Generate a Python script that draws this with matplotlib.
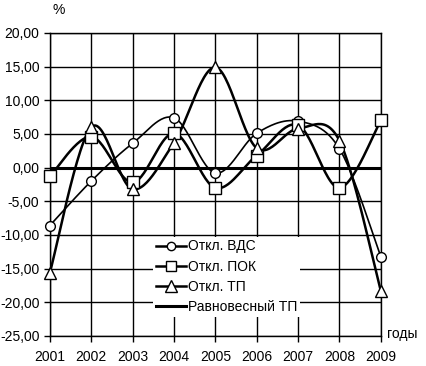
import numpy as np
import matplotlib
matplotlib.use('Agg')
import matplotlib.pyplot as plt
from matplotlib.ticker import FuncFormatter

plt.rcParams['font.family'] = ['Liberation Sans', 'DejaVu Sans']

years = [2001, 2002, 2003, 2004, 2005, 2006, 2007, 2008, 2009]
vds = [-8.6, -2.0, 3.6, 7.4, -0.8, 5.1, 6.9, 2.8, -13.2]
pok = [-1.3, 4.6, -2.2, 5.1, -3.0, 1.8, 6.3, -3.0, 7.0]
tp = [-15.6, 6.0, -3.2, 3.7, 14.9, 2.9, 5.8, 4.0, -18.3]
eq_tp = [0, 0, 0, 0, 0, 0, 0, 0, 0]


def smooth(x, y, n=30):
    # Excel-style smoothed line (Catmull-Rom through points)
    x = np.asarray(x, float); y = np.asarray(y, float)
    px = np.concatenate([[x[0]], x, [x[-1]]])
    py = np.concatenate([[y[0]], y, [y[-1]]])
    xs, ys = [], []
    t = np.linspace(0, 1, n)
    for i in range(1, len(px) - 2):
        p0, p1, p2, p3 = [np.array([px[j], py[j]]) for j in range(i - 1, i + 3)]
        c1 = p1 + (p2 - p0) / 6
        c2 = p2 - (p3 - p1) / 6
        b = ((1 - t) ** 3)[:, None] * p1 + (3 * (1 - t) ** 2 * t)[:, None] * c1 \
            + (3 * (1 - t) * t ** 2)[:, None] * c2 + (t ** 3)[:, None] * p2
        xs.append(b[:, 0]); ys.append(b[:, 1])
    return np.concatenate(xs), np.concatenate(ys)


fig = plt.figure(figsize=(4.26, 3.66), dpi=100)
ax = fig.add_axes([0.117, 0.082, 0.777, 0.828])

ax.grid(True, color='black', lw=1)
ax.set_axisbelow(True)

series = [(vds, 'o', 7, 1.2, 'Откл. ВДС'),
          (pok, 's', 8, 1.8, 'Откл. ПОК'),
          (tp, '^', 9, 1.8, 'Откл. ТП')]
handles = []
for vals, m, ms, lw, lab in series:
    sx, sy = smooth(years, vals)
    ax.plot(sx, sy, color='black', lw=lw, zorder=3, clip_on=False)
    ax.plot(years, vals, ls='none', marker=m, ms=ms, mfc='white',
            mec='black', mew=1, zorder=4, clip_on=False)
    h, = ax.plot([], [], color='black', lw=1.8, marker=m, ms=ms - 1,
                 mfc='white', mec='black', mew=1, label=lab)
    handles.append(h)
h, = ax.plot(years, eq_tp, color='black', lw=2.2, zorder=3, label='Равновесный ТП')
handles.append(h)

ax.set_xlim(2001, 2009)
ax.set_ylim(-25, 20)
ax.set_xticks(years)
ax.set_yticks(np.arange(-25, 21, 5))
ax.yaxis.set_major_formatter(FuncFormatter(lambda v, p: f'{v:.2f}'.replace('.', ',')))
ax.tick_params(labelsize=10, length=4, width=1, colors='black')
ax.tick_params(axis='x', pad=6)
for s in ax.spines.values():
    s.set_color('black'); s.set_linewidth(1)

fig.text(0.138, 0.972, '%', fontsize=10, ha='center', va='center')
fig.text(0.945, 0.088, 'годы', fontsize=10, ha='center', va='center')

leg = ax.legend(handles=handles, loc='lower left', bbox_to_anchor=(0.29, 0.04),
                frameon=True, fontsize=10, handlelength=2.2, handletextpad=0.15,
                borderpad=0.2, labelspacing=0.45)
leg.get_frame().set_edgecolor('none')
leg.get_frame().set_facecolor('white')
leg.get_frame().set_alpha(1)
leg.get_frame().set_boxstyle('square', pad=0)
leg.set_zorder(5)

fig.savefig('out.png', dpi=100)
